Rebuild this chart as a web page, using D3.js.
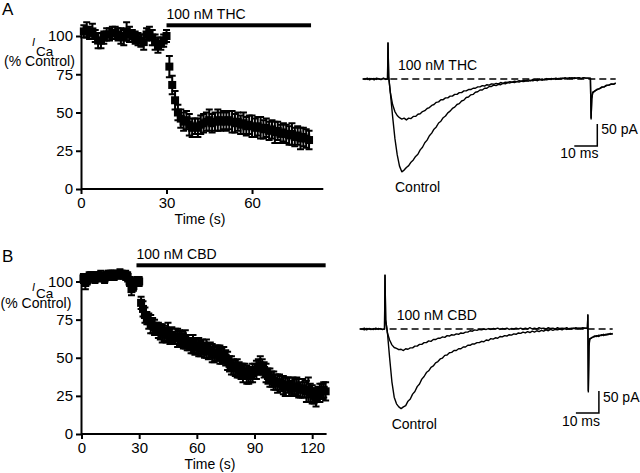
<!DOCTYPE html>
<html><head><meta charset="utf-8">
<script src="https://cdn.jsdelivr.net/npm/d3@7"></script>
<style>
body{margin:0;background:#fff}
svg{display:block}
text{font-family:"Liberation Sans",Arial,Helvetica,sans-serif;fill:#000}
</style>
</head><body>
<svg id="c" width="640" height="473"></svg>
<script>
// ---------- Time-course data (percent of control) ----------
const timeA = [1,2,3,4,5,6,7,8,9,10,11,12,13,14,15,16,17,18,19,20,21,22,23,24,25,26,27,28,29,30,31,32,33,34,35,36,37,38,39,40,41,42,43,44,45,46,47,48,49,50,51,52,53,54,55,56,57,58,59,60,61,62,63,64,65,66,67,68,69,70,71,72,73,74,75,76,77,78,79,80];
const icaA = [103,104,102,103,100,97,97,99,101,101,102,102,101,100,99,103,101,100,99,98,97,96,101,102,99,96,94,95,97,100,
  80,68,58,50,46,44,45,42,40,41,40,42,43,44,45,43,44,45,44,45,44,45,44,43,44,42,43,41,42,41,40,41,40,39,40,38,39,37,38,36,37,36,35,36,34,35,33,34,33,32];
const semA = [4,5,4,5,4,5,5,4,4,4,4,4,4,5,5,6,5,4,4,4,4,5,4,4,5,5,5,4,4,4,
  7,6,6,5,6,6,6,7,6,5,6,6,6,6,7,6,6,7,6,6,6,6,7,6,6,6,7,6,6,7,6,6,7,6,6,6,6,7,6,6,6,6,6,7,6,6,7,6,6,6];
const drugA = [30, 80.7];
const labelDrugA = "100 nM THC";

const timeB = [1,2,3,4,5,6,7,8,9,10,11,12,13,14,15,16,17,18,19,20,21,22,23,24,25,26,27,28,29,30,31,32,33,34,35,36,37,38,39,40,41,42,43,44,45,46,47,48,49,50,51,52,53,54,55,56,57,58,59,60,61,62,63,64,65,66,67,68,69,70,71,72,73,74,75,76,77,78,79,80,81,82,83,84,85,86,87,88,89,90,91,92,93,94,95,96,97,98,99,100,101,102,103,104,105,106,107,108,109,110,111,112,113,114,115,116,117,118,119,120,121,122,123,124,125,126,127];
const icaB = [102,99,101,103,104,103,102,104,103,104,
  103,102,104,105,104,105,104,105,104,105,
  105,104,104,103,100,95,97,100,101,100,
  86,82,78,76,74,72,71,70,69,68,
  67,66,66,65,67,64,65,63,64,63,
  63,62,61,62,60,59,58,59,57,58,
  57,56,57,55,56,54,55,53,52,53,
  53,52,51,52,50,48,46,45,44,43,
  43,42,41,40,41,39,38,39,40,41,
  42,44,45,44,42,40,38,37,36,35,
  34,33,34,33,32,31,32,31,30,31,
  31,31,30,29,30,29,28,29,27,26,
  25,24,26,27,28,29,28];
const semB = [3,4,3,3,2,3,3,2,3,3,2,3,2,2,3,2,3,2,2,3,2,2,3,3,3,4,3,2,2,3,
  4,5,5,4,5,6,5,5,4,5,5,6,5,5,6,5,5,4,5,6,5,5,5,6,5,4,5,6,5,5,
  6,5,5,5,6,5,5,6,5,5,5,6,5,5,5,6,5,6,5,5,6,5,5,6,5,6,5,5,6,5,
  6,5,6,5,5,6,5,6,5,6,5,6,5,5,6,6,5,6,5,6,5,6,6,5,6,5,7,8,6,6,5,6,5,6,5,5,6];
const drugB = [28.6, 127];
const labelDrugB = "100 nM CBD";

// ---------- Current traces (ms, pA) ----------
const traceTimeA = [0,1,2,3,4,5,6,7,8,9,10,10.8,11,11.3,
  12,13,14,15,16,17,18,19,20,21,22,23,24,25,26,27,28,29,30,31,32,33,34,35,36,37,38,39,40,41,42,43,44,45,46,47,48,49,50,51,52,53,54,55,56,57,58,59,60,61,62,63,64,65,66,67,68,69,70,71,72,73,74,75,76,77,78,79,80,81,82,83,84,85,86,87,88,89,90,91,92,93,94,95,96,97,98,
  99,99.3,99.6,100,101,102,103,104,105,106,107,108,109,110];
const controlA = [1,-1,2,-2,1,-2,2,0,-1,2,-1,0,82,5,
  -30,-85,-135,-172,-198,-211,
  -207,-201,-197,-189,-184,-176,-171,-161,-155,-145,
  -139,-129,-123,-114,-109,-100,-96,-88,-84,-77,
  -73,-67,-64,-58,-56,-50,-48,-42,-41,-36,
  -35,-30,-29,-25,-25,-21,-21,-17,-17,-14,
  -15,-12,-13,-10,-11,-8,-9,-7,-8,-6,
  -7,-5,-6,-4,-5,-3,-4,-2,-4,-1,
  -3,-1,-2,0,-1,1,-1,1,0,2,
  0,2,1,3,1,2,3,1,3,2,2,
  2,-91,-45,-32,-27,-24,-22,-19,-18,-15,-14,-12,-12,-10];
const thcA = [-1,1,-1,1,0,1,-1,1,-1,1,0,0,82,5,
  -30,-58,-74,-83,-88,-91,
  -89,-93,-89,-90,-85,-85,-80,-79,-74,-72,
  -67,-65,-60,-58,-53,-52,-47,-47,-43,-43,
  -39,-39,-35,-35,-31,-31,-27,-27,-24,-24,
  -21,-21,-18,-18,-15,-16,-13,-14,-11,-12,
  -10,-11,-8,-10,-7,-8,-6,-7,-5,-6,
  -4,-5,-3,-4,-2,-4,-1,-3,-1,-2,
  0,-2,1,-1,1,0,2,0,2,1,
  3,1,3,1,3,2,3,1,3,2,2,
  1,-88,-44,-30,-27,-23,-22,-18,-18,-14,-14,-11,-12,-9];

const traceTimeB = [0,1,2,3,4,5,6,7,8,9,10,10.8,11,11.3,
  12,13,14,15,16,17,18,19,20,21,22,23,24,25,26,27,28,29,30,31,32,33,34,35,36,37,38,39,40,41,42,43,44,45,46,47,48,49,50,51,52,53,54,55,56,57,58,59,60,61,62,63,64,65,66,67,68,69,70,71,72,73,74,75,76,77,78,79,80,81,82,83,84,85,86,87,88,89,90,91,92,93,94,95,96,97,98,
  99,99.2,99.4,99.7,100,101,102,103,104,105,106,107,108,109,110];
const controlB = [1,-1,2,-2,1,0,-1,2,-1,1,-1,0,122,20,
  -5,-65,-120,-155,-170,-177,
  -181,-177,-174,-164,-159,-148,-142,-131,-125,-114,
  -108,-99,-95,-87,-84,-77,-74,-68,-66,-60,
  -59,-54,-53,-49,-49,-45,-45,-41,-41,-37,
  -37,-34,-34,-31,-31,-28,-29,-25,-26,-22,
  -23,-20,-21,-17,-18,-15,-16,-13,-14,-11,
  -12,-9,-10,-7,-9,-6,-8,-5,-7,-4,
  -6,-3,-5,-2,-4,-1,-3,-1,-2,0,
  -2,1,-1,1,0,2,0,2,1,3,2,
  2,32,-143,-40,-24,-19,-18,-15,-17,-13,-15,-12,-13,-10,-12];
const cbdB = [-1,1,-2,1,0,-1,1,-1,1,0,-1,0,122,20,
  -8,-25,-36,-42,-44,-47,
  -46,-49,-45,-46,-43,-43,-39,-39,-35,-35,
  -31,-31,-27,-28,-24,-24,-21,-21,-18,-19,
  -15,-16,-13,-14,-11,-12,-9,-10,-7,-7,
  -4,-5,-2,-3,-1,-2,0,-1,1,-1,
  1,0,2,-1,1,0,2,-1,1,0,
  2,0,2,-1,2,0,3,0,2,0,
  3,1,2,0,3,1,2,0,3,1,
  2,1,3,0,2,1,3,1,2,1,2,
  1,32,-140,-38,-22,-20,-16,-17,-14,-15,-12,-14,-11,-12,-10];

const yTicks = [0,25,50,75,100];
const xTicksA = [0,30,60];
const xTicksB = [0,30,60,90,120];

// ---------- Drawing ----------
const svg = d3.select("#c");

function drawTimeCourse(cfg){
  const x = d3.scaleLinear().domain(cfg.xDomain).range(cfg.xRange);
  const y = d3.scaleLinear().domain([0,105]).range(cfg.yRange);
  const g = svg.append("g");
  const pts = cfg.times.map((t,i)=>({t, v:cfg.values[i], e:cfg.errors[i]}));
  const cw = 3.5;
  g.append("g").selectAll("path").data(pts).join("path")
    .attr("d", d=>`M${x(d.t)},${y(d.v-d.e)}V${y(d.v+d.e)}M${x(d.t)-cw},${y(d.v+d.e)}h${2*cw}M${x(d.t)-cw},${y(d.v-d.e)}h${2*cw}`)
    .attr("stroke","#000").attr("stroke-width",2).attr("fill","none");
  const s = cfg.marker;
  g.append("g").selectAll("rect").data(pts).join("rect")
    .attr("x", d=>x(d.t)-s/2).attr("y", d=>y(d.v)-s/2)
    .attr("width", s).attr("height", s).attr("fill","#000");

  const ax = g.append("g").attr("transform",`translate(0,${cfg.yRange[0]})`)
    .call(d3.axisBottom(x).tickValues(cfg.xTicks).tickSize(5).tickSizeOuter(0).tickPadding(3));
  const ay = g.append("g").attr("transform",`translate(${cfg.yAxisX},0)`)
    .call(d3.axisLeft(y).tickValues(yTicks).tickSize(5).tickSizeOuter(0).tickPadding(3));
  [ax, ay].forEach(a=>{
    a.select(".domain").attr("stroke","#000").attr("stroke-width",2);
    a.selectAll(".tick line").attr("stroke","#000").attr("stroke-width",2);
    a.selectAll(".tick text").attr("font-size",15).attr("font-family","Liberation Sans, Arial, sans-serif").attr("fill","#000");
  });
  ax.select(".domain").attr("d", `M${cfg.yAxisX},0H${cfg.xRange[1]}`);

  // drug application bar
  g.append("rect").attr("x", x(cfg.drug[0])).attr("y", cfg.barY)
    .attr("width", x(cfg.drug[1]) - x(cfg.drug[0])).attr("height", 4).attr("fill","#000");
  g.append("text").attr("x", x(cfg.drug[0])).attr("y", cfg.barY-4.5)
    .attr("font-size",14).text(cfg.drugLabel);

  // axis titles
  g.append("text").attr("x", cfg.xTitleX).attr("y", cfg.xTitleY).attr("text-anchor","middle")
    .attr("font-size",14).text("Time (s)");
  g.append("text").attr("x", 32).attr("y", cfg.iY).attr("font-size",11).attr("font-style","italic").text("I");
  g.append("text").attr("x", 36).attr("y", cfg.caY).attr("font-size",13.5).text("Ca");
  g.append("text").attr("x", cfg.ctrlX).attr("y", cfg.ctrlY).attr("text-anchor","middle").attr("font-size",14).text("(% Control)");
  // panel letter
  g.append("text").attr("x", 2).attr("y", cfg.letterY).attr("font-size",17).text(cfg.letter);
}

function drawTraces(cfg){
  const x = d3.scaleLinear().domain([0,10]).range([cfg.x0, cfg.x0+23]);
  const y = d3.scaleLinear().domain([0,-50]).range([cfg.y0, cfg.y0+22]);
  const g = svg.append("g");
  g.append("line").attr("x1", x(cfg.dash[0])).attr("x2", x(cfg.dash[1]))
    .attr("y1", y(0)).attr("y2", y(0))
    .attr("stroke","#000").attr("stroke-width",1.3).attr("stroke-dasharray","7,4");
  const line = d3.line().x((d,i)=>x(cfg.times[i])).y(d=>y(d));
  [cfg.drugTrace, cfg.control].forEach(tr=>{
    g.append("path").attr("d", line(tr)).attr("fill","none")
      .attr("stroke","#000").attr("stroke-width",1.4).attr("stroke-linejoin","round");
  });
  // scale bar
  const sb = cfg.scaleBar;
  g.append("path").attr("d", `M${x(sb[0]-10)},${y(sb[1])}H${x(sb[0])}V${y(sb[1]+50)}`)
    .attr("fill","none").attr("stroke","#000").attr("stroke-width",1.5);
  g.append("text").attr("x", x(sb[0])+4).attr("y", y(sb[1]+50)+cfg.pAdy).attr("font-size",14).text("50 pA");
  g.append("text").attr("x", x(sb[0]-10)-14).attr("y", y(sb[1])+12.5).attr("font-size",14).text("10 ms");
  g.append("text").attr("x", cfg.drugLabelPos[0]).attr("y", cfg.drugLabelPos[1]).attr("font-size",14).text(cfg.drugLabel);
  g.append("text").attr("x", cfg.ctrlLabelPos[0]).attr("y", cfg.ctrlLabelPos[1]).attr("font-size",14).text("Control");
}

drawTimeCourse({times: timeA, values: icaA, errors: semA, xDomain:[0,85], xRange:[81,323.3],
  yRange:[189, 189-105*1.53], yAxisX:81, xTicks:xTicksA, drug:drugA, drugLabel:labelDrugA, barY:23.3,
  marker:8, xTitleX:200, xTitleY:224, iY:45.5, caY:56, ctrlX:39.5, ctrlY:66, letter:"A", letterY:15});
drawTimeCourse({times: timeB, values: icaB, errors: semB, xDomain:[0,127.5], xRange:[81.5,326.6],
  yRange:[434, 434-105*1.525], yAxisX:81, xTicks:xTicksB, drug:drugB, drugLabel:labelDrugB, barY:263.3,
  marker:8, xTitleX:210, xTitleY:469, iY:290.5, caY:297.5, ctrlX:36, ctrlY:308, letter:"B", letterY:262});

drawTraces({x0:362.7, y0:79, times: traceTimeA, control: controlA, drugTrace: thcA, dash:[12,110],
  scaleBar:[102,-152], pAdy:10, drugLabel:labelDrugA, drugLabelPos:[398,69.5], ctrlLabelPos:[395,192]});
drawTraces({x0:359.7, y0:329, times: traceTimeB, control: controlB, drugTrace: cbdB, dash:[13,110],
  scaleBar:[104,-191], pAdy:10.5, drugLabel:labelDrugB, drugLabelPos:[396.7,320], ctrlLabelPos:[391.7,429]});
</script>
</body></html>
